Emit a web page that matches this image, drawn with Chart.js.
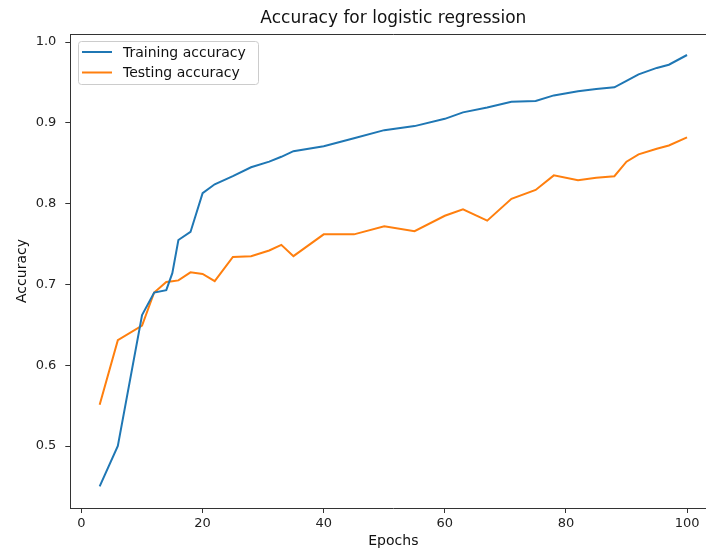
<!DOCTYPE html>
<html>
<head>
<meta charset="utf-8">
<script src="https://cdn.jsdelivr.net/npm/chart.js@4.4.0/dist/chart.umd.min.js"></script>
<style>
  html, body { margin: 0; padding: 0; background: #fff; overflow: hidden; }
  #wrap { width: 706px; height: 550px; overflow: hidden; position: relative; }
  #grafico_linhas { display: block; }
</style>
</head>
<body>
<div id="wrap"><canvas id="grafico_linhas" width="730" height="550"></canvas></div>
<script>
// dados
const epochs = [3, 6, 10, 12, 14, 15, 16, 18, 20, 22, 25, 28, 31, 33, 35, 40, 45, 50, 55, 60, 63, 67, 71, 75, 78, 82, 85, 88, 90, 92, 95, 97, 100]
const trainAcc = [0.450, 0.500, 0.662, 0.690, 0.693, 0.714, 0.755, 0.765, 0.813, 0.824, 0.834, 0.845, 0.852, 0.858, 0.865, 0.871, 0.881, 0.891, 0.896, 0.905, 0.913, 0.919, 0.926, 0.927, 0.934, 0.939, 0.942, 0.944, 0.952, 0.960, 0.968, 0.972, 0.984]
const testAcc = [0.551, 0.631, 0.649, 0.690, 0.703, 0.704, 0.705, 0.715, 0.713, 0.704, 0.734, 0.735, 0.742, 0.749, 0.735, 0.762, 0.762, 0.772, 0.766, 0.785, 0.793, 0.779, 0.806, 0.817, 0.835, 0.829, 0.832, 0.834, 0.852, 0.861, 0.868, 0.872, 0.882]
const seriesNames = ['Training accuracy', 'Testing accuracy']
const chartTitle = 'Accuracy for logistic regression'

const xTicks = [0, 20, 40, 60, 80, 100]
const yTicks = [0.5, 0.6, 0.7, 0.8, 0.9, 1.0]

const fonte = 'DejaVu Sans'
const corEixo = '#333333'

const pontos = (ys) => epochs.map((x, i) => ({ x, y: ys[i] }))

// título + legenda desenhados dentro do gráfico, estilo matplotlib
const extras = {
  id: 'extras',
  afterDraw(chart) {
    const { ctx, chartArea } = chart
    ctx.save()
    // borda de cima
    ctx.strokeStyle = corEixo
    ctx.lineWidth = 1
    ctx.beginPath()
    ctx.moveTo(chartArea.left, chartArea.top + 0.5)
    ctx.lineTo(chartArea.right, chartArea.top + 0.5)
    ctx.stroke()

    // título
    ctx.fillStyle = '#111'
    ctx.font = '17px "' + fonte + '"'
    ctx.textAlign = 'center'
    ctx.textBaseline = 'middle'
    ctx.fillText(chartTitle, (chartArea.left + chartArea.right) / 2, 19)

    // legenda
    ctx.fillStyle = 'rgba(255,255,255,0.8)'
    ctx.strokeStyle = '#cccccc'
    ctx.beginPath()
    ctx.roundRect(78.5, 41.5, 180, 43, 3)
    ctx.fill()
    ctx.stroke()
    ctx.font = '14px "' + fonte + '"'
    ctx.textAlign = 'left'
    chart.data.datasets.forEach((ds, i) => {
      const y = 52 + i * 20.5
      ctx.strokeStyle = ds.borderColor
      ctx.lineWidth = 2
      ctx.beginPath()
      ctx.moveTo(82, y)
      ctx.lineTo(112, y)
      ctx.stroke()
      ctx.fillStyle = '#111'
      ctx.fillText(ds.label, 123, y + 1)
    })
    ctx.restore()
  }
}

const data = {
  datasets: [
    { label: seriesNames[0], data: pontos(trainAcc), borderColor: '#1f77b4', backgroundColor: '#1f77b4', borderWidth: 2, pointRadius: 0, tension: 0 },
    { label: seriesNames[1], data: pontos(testAcc), borderColor: '#ff7f0e', backgroundColor: '#ff7f0e', borderWidth: 2, pointRadius: 0, tension: 0 }
  ]
}

const config = {
  type: 'line',
  data,
  options: {
    responsive: false,
    animation: false,
    layout: { padding: { top: 34, right: 13.6, left: 0, bottom: 0 } },
    plugins: {
      legend: { display: false },
      title: { display: false },
      tooltip: { enabled: false }
    },
    scales: {
      x: {
        type: 'linear',
        min: -1.85,
        max: 104.85,
        afterFit: (s) => { s.height = 42 },
        afterBuildTicks: (s) => { s.ticks = xTicks.map(v => ({ value: v })) },
        grid: { display: true, drawOnChartArea: false, drawTicks: true, tickLength: 5, color: corEixo },
        border: { display: true, color: corEixo, width: 1 },
        ticks: { color: '#222', font: { family: fonte, size: 13 }, padding: 3, maxRotation: 0 },
        title: { display: true, text: 'Epochs', color: '#111', font: { family: fonte, size: 14 }, padding: { top: 0, bottom: 0 } }
      },
      y: {
        type: 'linear',
        min: 0.4233,
        max: 1.01,
        afterFit: (s) => { s.width = 70.3 },
        afterBuildTicks: (s) => { s.ticks = yTicks.map(v => ({ value: v })) },
        grid: { display: true, drawOnChartArea: false, drawTicks: true, tickLength: 5, color: corEixo },
        border: { display: true, color: corEixo, width: 1 },
        ticks: { color: '#222', font: { family: fonte, size: 13 }, padding: 9, callback: (v) => v.toFixed(1) },
        title: { display: true, text: 'Accuracy', color: '#111', font: { family: fonte, size: 14 }, padding: { top: 13.5, bottom: 0 } }
      }
    }
  },
  plugins: [extras]
}

const graph = new Chart(document.getElementById('grafico_linhas'), config)
</script>
</body>
</html>
